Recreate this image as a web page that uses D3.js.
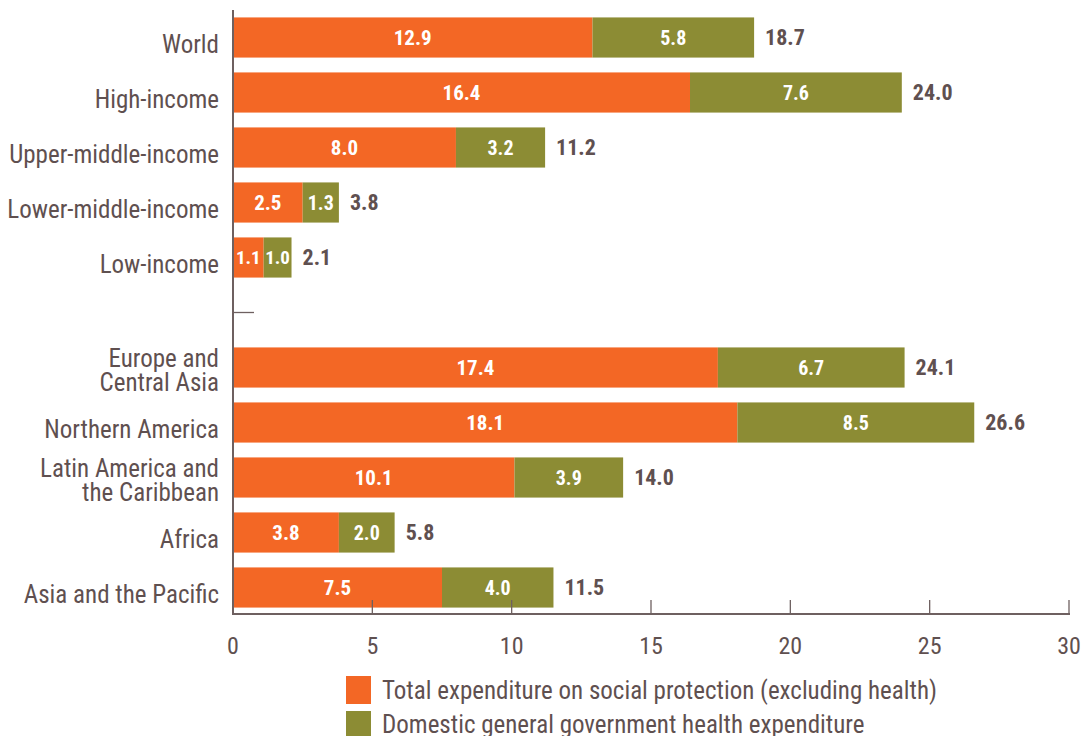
<!DOCTYPE html>
<html><head><meta charset="utf-8">
<script src="https://cdn.jsdelivr.net/npm/d3@7"></script>
<style>
body{margin:0;background:#fff;}
text{font-family:"Roboto Condensed","Liberation Sans Narrow","Roboto",sans-serif;}
</style></head>
<body><svg id="c" width="1088" height="736"></svg>
<script>
const categories = ["World","High-income","Upper-middle-income","Lower-middle-income","Low-income","",
  "Europe and\nCentral Asia","Northern America","Latin America and\nthe Caribbean","Africa","Asia and the Pacific"];
const socialProtection = [12.9,16.4,8.0,2.5,1.1,null,17.4,18.1,10.1,3.8,7.5];
const healthExpenditure = [5.8,7.6,3.2,1.3,1.0,null,6.7,8.5,3.9,2.0,4.0];
const totals = [18.7,24.0,11.2,3.8,2.1,null,24.1,26.6,14.0,5.8,11.5];
const xTicks = [0,5,10,15,20,25,30];
const seriesNames = ["Total expenditure on social protection (excluding health)","Domestic general government health expenditure"];

const colors = ["#f36725","#8c8c34"];
const axisColor = "#6e6060";
const textColor = "#5f5050";

const svg = d3.select("#c");
const x = d3.scaleLinear().domain([0,30]).range([233,1069]);
const y = d3.scaleBand().domain(d3.range(categories.length)).range([10,615]).paddingInner(0.27).paddingOuter(0.135);

const rows = categories.map((c,i)=>({c,i,a:socialProtection[i],b:healthExpenditure[i],t:totals[i]})).filter(d=>d.a!=null);

const g = svg.append("g");
g.selectAll("rect.a").data(rows).join("rect").attr("class","a")
  .attr("x",x(0)).attr("y",d=>y(d.i)).attr("height",y.bandwidth())
  .attr("width",d=>x(d.a)-x(0)).attr("fill",colors[0]);
g.selectAll("rect.b").data(rows).join("rect").attr("class","b")
  .attr("x",d=>x(d.a)).attr("y",d=>y(d.i)).attr("height",y.bandwidth())
  .attr("width",d=>x(d.a+d.b)-x(d.a)).attr("fill",colors[1]);

g.selectAll("text.la").data(rows).join("text")
  .attr("x",d=>(x(0)+x(d.a))/2).attr("y",d=>y(d.i)+y.bandwidth()/2).attr("dy","0.36em")
  .attr("text-anchor","middle").attr("fill","#fff").attr("font-weight","bold")
  .attr("font-size",d=>d.a<2?19:21).text(d=>d.a.toFixed(1));
g.selectAll("text.lb").data(rows).join("text")
  .attr("x",d=>(x(d.a)+x(d.a+d.b))/2).attr("y",d=>y(d.i)+y.bandwidth()/2).attr("dy","0.36em")
  .attr("text-anchor","middle").attr("fill","#fff").attr("font-weight","bold")
  .attr("font-size",d=>d.b<1.2?19:20).text(d=>d.b.toFixed(1));
g.selectAll("text.lt").data(rows).join("text")
  .attr("x",d=>x(d.a+d.b)+11).attr("y",d=>y(d.i)+y.bandwidth()/2).attr("dy","0.36em")
  .attr("fill",textColor).attr("font-weight","bold").attr("font-size",22).text(d=>d.t.toFixed(1));

// category labels
const cl = svg.append("g");
categories.forEach((c,i)=>{
  if(!c) return;
  const lines = c.split("\n");
  const cy = y(i)+y.bandwidth()/2+(lines.length>1?2:6);
  const t = cl.append("text").attr("text-anchor","end").attr("fill",textColor).attr("font-size",25);
  lines.forEach((ln,k)=>{
    t.append("tspan").attr("x",219).attr("y",cy+(k-(lines.length-1)/2)*24).attr("dy","0.36em").text(ln);
  });
});

// axes
svg.append("line").attr("x1",x(0)).attr("x2",x(0)).attr("y1",10).attr("y2",614).attr("stroke",axisColor).attr("stroke-width",2);
svg.append("line").attr("x1",x(0)-1).attr("x2",x(30)+1).attr("y1",614).attr("y2",614).attr("stroke",axisColor).attr("stroke-width",2);
svg.selectAll("line.tk").data(xTicks).join("line").attr("x1",d=>x(d)).attr("x2",d=>x(d)).attr("y1",600).attr("y2",614).attr("stroke",axisColor).attr("stroke-width",1.3);
svg.selectAll("text.tl").data(xTicks).join("text").attr("x",d=>x(d)).attr("y",645).attr("dy","0.36em")
  .attr("text-anchor","middle").attr("fill",textColor).attr("font-size",24).text(d=>d);
// separator tick
const sepY = y(5)+y.bandwidth()/2;
svg.append("line").attr("x1",x(0)).attr("x2",x(0)+21).attr("y1",sepY).attr("y2",sepY).attr("stroke",axisColor).attr("stroke-width",1.3);

// legend
const lg = svg.append("g");
seriesNames.forEach((s,i)=>{
  lg.append("rect").attr("x",346).attr("y",676+i*35).attr("width",25).attr("height",28).attr("fill",colors[i]);
  lg.append("text").attr("x",382).attr("y",690+i*34).attr("dy","0.36em").attr("fill",textColor).attr("font-size",25).text(s);
});
</script></body></html>
